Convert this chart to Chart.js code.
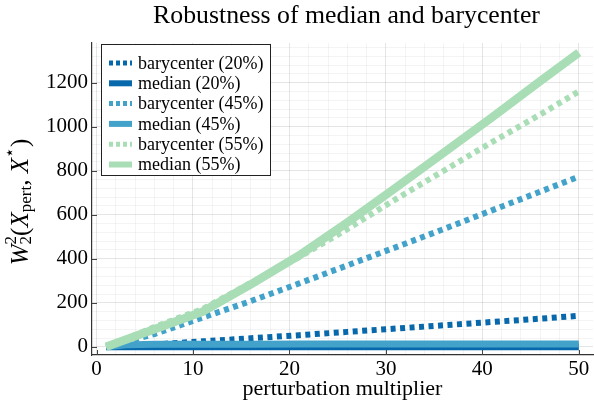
<!DOCTYPE html>
<html>
<head>
<meta charset="utf-8">
<script src="https://cdn.jsdelivr.net/npm/chart.js@4.4.1/dist/chart.umd.min.js"></script>
<style>
  html, body { margin: 0; padding: 0; background: #fff; }
  #wrap { width: 594px; height: 404px; }
</style>
</head>
<body>
<div id="wrap"><canvas id="chart" width="594" height="404"></canvas></div>
<script>
const X_VALUES = [1, 3, 6, 11, 16, 21, 26, 31, 36, 41, 46, 50];
const BARY_20 = [0, 4, 11, 25, 39, 53, 68, 83, 98, 113, 128, 141];
const MED_20 = [0, 1, 1, 1, 1, 1, 1, 1, 1, 1, 1, 1];
const BARY_45 = [0, 22, 58, 133, 208, 288, 370, 452, 535, 620, 705, 773];
const MED_45 = [0, 9, 12, 12, 12, 13, 13, 13, 13, 13, 13, 13];
const BARY_55 = [0, 34, 90, 172, 290, 408, 535, 670, 800, 930, 1055, 1160];
const MED_55 = [0, 32, 80, 160, 284, 415, 565, 722, 882, 1042, 1207, 1336];

const X_TICKS = [0, 10, 20, 30, 40, 50];
const Y_TICKS = [0, 200, 400, 600, 800, 1000, 1200];

const TITLE = 'Robustness of median and barycenter';
const X_LABEL = 'perturbation multiplier';

const DARK = '#0868ac';
const MID = '#43a2ca';
const LIGHT = '#a8ddb5';
const SERIF = '"Liberation Serif", "DejaVu Serif", serif';

function pts(ys) {
  return ys.map((y, i) => ({ x: X_VALUES[i], y: y }));
}

function series(label, ys, color, dotted, order) {
  return {
    label: label,
    data: pts(ys),
    borderColor: color,
    backgroundColor: color,
    borderWidth: dotted ? 6 : 7,
    borderDash: dotted ? [5, 4.5] : [],
    borderCapStyle: 'butt',
    pointRadius: 0,
    tension: 0,
    order: order
  };
}

const datasets = [
  series('barycenter (20%)', BARY_20, DARK, true, 6),
  series('median (20%)', MED_20, DARK, false, 5),
  series('barycenter (45%)', BARY_45, MID, true, 4),
  series('median (45%)', MED_45, MID, false, 3),
  series('barycenter (55%)', BARY_55, LIGHT, true, 2),
  series('median (55%)', MED_55, LIGHT, false, 1)
];
datasets[5].borderWidth = 8.5;

// title, y label, inward tick marks and the boxed legend
const decor = {
  id: 'decor',
  afterDraw(chart) {
    const ctx = chart.ctx;
    const area = chart.chartArea;
    const xs = chart.scales.x, ys = chart.scales.y;
    ctx.save();

    // title
    ctx.fillStyle = '#000';
    ctx.font = '25.8px ' + SERIF;
    ctx.textAlign = 'center';
    ctx.textBaseline = 'middle';
    ctx.fillText(TITLE, (area.left + area.right) / 2 + 4, 16);

    // tick marks pointing inwards
    ctx.strokeStyle = '#444';
    ctx.lineWidth = 1;
    ctx.beginPath();
    X_TICKS.forEach(v => {
      const px = Math.round(xs.getPixelForValue(v)) + 0.5;
      ctx.moveTo(px, area.bottom);
      ctx.lineTo(px, area.bottom - 5);
    });
    Y_TICKS.forEach(v => {
      const py = Math.round(ys.getPixelForValue(v)) + 0.5;
      ctx.moveTo(area.left, py);
      ctx.lineTo(area.left + 5, py);
    });
    ctx.stroke();

    // y label: W_2^2(X_pert, X*)
    const parts = [
      { t: 'W', f: 'italic 25px ', dy: 0 },
      { t: '2', f: '17px ', dy: 0, stack: '2' },
      { t: '(', f: '25px ', dy: 0 },
      { t: 'X', f: 'italic 25px ', dy: 0 },
      { t: 'pert', f: '17px ', dy: 6 },
      { t: ', ', f: '25px ', dy: 0 },
      { t: 'X', f: 'italic 25px ', dy: 0 },
      { t: '\u22C6', f: '17px ', dy: -10 },
      { t: ')', f: '25px ', dy: 0 }
    ];
    let total = 0;
    parts.forEach(p => { ctx.font = p.f + SERIF; p.w = ctx.measureText(p.t).width; total += p.w; });
    ctx.translate(21, (area.top + area.bottom) / 2 + 3);
    ctx.rotate(-Math.PI / 2);
    ctx.textAlign = 'left';
    ctx.textBaseline = 'middle';
    let cx = -total / 2;
    parts.forEach(p => {
      ctx.font = p.f + SERIF;
      if (p.stack) {
        ctx.fillText(p.t, cx, 6);
        ctx.fillText(p.stack, cx, -9);
      } else {
        ctx.fillText(p.t, cx, p.dy);
      }
      cx += p.w;
    });
    ctx.restore();

    // legend
    ctx.save();
    const lx = area.left + 9, ly = area.top + 1, lw = 169, lh = 131;
    ctx.fillStyle = '#fff';
    ctx.fillRect(lx, ly, lw, lh);
    ctx.strokeStyle = '#222';
    ctx.lineWidth = 1;
    ctx.strokeRect(lx + 0.5, ly + 0.5, lw, lh);
    ctx.font = '18px ' + SERIF;
    ctx.textBaseline = 'middle';
    ctx.textAlign = 'left';
    chart.data.datasets.forEach((ds, i) => {
      const cy = ly + 19 + i * 20.3;
      ctx.strokeStyle = ds.borderColor;
      ctx.lineWidth = ds.borderDash.length ? 5 : 6;
      ctx.lineCap = 'butt';
      ctx.setLineDash(ds.borderDash.length ? [4, 3] : []);
      ctx.beginPath();
      ctx.moveTo(lx + 8, cy);
      ctx.lineTo(lx + 31, cy);
      ctx.stroke();
      ctx.setLineDash([]);
      ctx.fillStyle = '#000';
      ctx.fillText(ds.label, lx + 37, cy + 1);
    });
    ctx.restore();
  }
};

const majorGrid = 'rgba(0,0,0,0.1)';
const minorGrid = 'rgba(0,0,0,0.045)';

new Chart(document.getElementById('chart').getContext('2d'), {
  type: 'line',
  data: { datasets: datasets },
  options: {
    responsive: false,
    animation: false,
    layout: { padding: { top: 43, right: 1, left: 0, bottom: 0 } },
    plugins: {
      legend: { display: false },
      title: { display: false },
      tooltip: { enabled: false }
    },
    scales: {
      x: {
        type: 'linear',
        min: -0.47,
        max: 51.47,
        afterFit: s => { s.height = 49; },
        ticks: {
          stepSize: 2,
          autoSkip: false,
          maxRotation: 0,
          includeBounds: false,
          padding: 2,
          color: '#000',
          font: { family: SERIF, size: 21 },
          callback: v => (X_TICKS.includes(v) ? String(v) : '')
        },
        grid: {
          drawTicks: false,
          color: c => (c.tick && X_TICKS.includes(c.tick.value) ? majorGrid : minorGrid)
        },
        border: { color: '#333', width: 1.2 },
        title: {
          display: true,
          text: X_LABEL,
          color: '#000',
          font: { family: SERIF, size: 22 },
          padding: { top: 0, bottom: 2 }
        }
      },
      y: {
        type: 'linear',
        min: -37,
        max: 1380,
        afterFit: s => { s.width = 92; },
        ticks: {
          stepSize: 40,
          autoSkip: false,
          includeBounds: false,
          padding: 4,
          color: '#000',
          font: { family: SERIF, size: 21 },
          callback: v => (Y_TICKS.includes(v) ? String(v) : '')
        },
        grid: {
          drawTicks: false,
          color: c => (c.tick && Y_TICKS.includes(c.tick.value) ? majorGrid : minorGrid)
        },
        border: { color: '#333', width: 1.2 }
      }
    }
  },
  plugins: [decor]
});
</script>
</body>
</html>
